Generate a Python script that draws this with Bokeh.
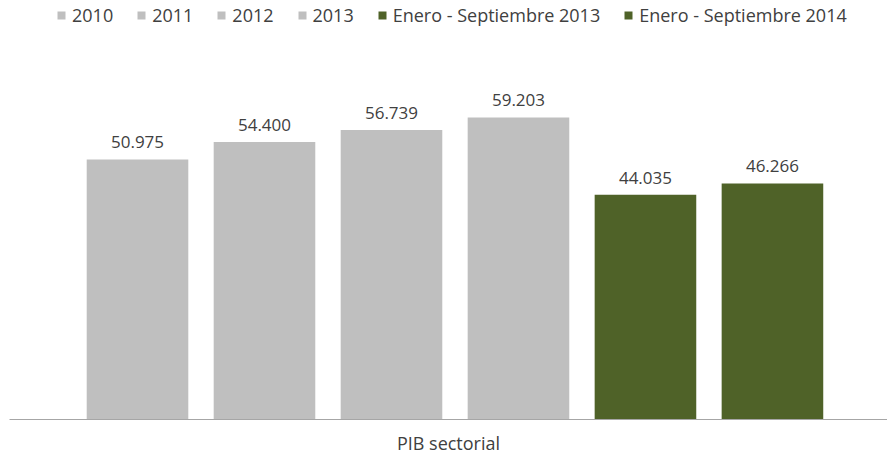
from bokeh.plotting import figure
from bokeh.models import Range1d, FixedTicker, Legend, LegendItem, ColumnDataSource
from bokeh.embed import file_html
from bokeh.resources import INLINE
from bokeh.core.properties import value

# Data
categories = ["2010", "2011", "2012", "2013", "Enero - Septiembre 2013", "Enero - Septiembre 2014"]
values = [50975, 54400, 56739, 59203, 44035, 46266]
colors = ["#bfbfbf", "#bfbfbf", "#bfbfbf", "#bfbfbf", "#4f6228", "#4f6228"]
axis_title = "PIB sectorial"

labels = [f"{v:,}".replace(",", ".") for v in values]
xs = list(range(len(categories)))

FONT = "Open Sans"

p = figure(width=887, height=457, output_backend="svg", toolbar_location=None,
           x_range=Range1d(-1.008, 5.906), y_range=Range1d(0, 82111),
           min_border_left=9, min_border_right=0, min_border_top=0, min_border_bottom=37)

p.outline_line_color = None
p.xgrid.visible = False
p.ygrid.visible = False
p.yaxis.visible = False
p.background_fill_color = "white"
p.border_fill_color = "white"

items = []
for i, (x, v, c, cat) in enumerate(zip(xs, values, colors, categories)):
    src = ColumnDataSource(dict(x=[x], top=[v]))
    r = p.vbar(x="x", top="top", width=0.8, bottom=0, source=src, fill_color=c, line_color=None)
    items.append(LegendItem(label=cat, renderers=[r]))

p.text(x=xs, y=values, text=labels, text_align="center", text_baseline="bottom",
       y_offset=-11, text_font=value(FONT), text_font_size="17px", text_color="#404040")

ax = p.xaxis[0]
ax.ticker = FixedTicker(ticks=[])
ax.axis_label = axis_title
ax.axis_label_text_font = FONT
ax.axis_label_text_font_size = "18px"
ax.axis_label_text_font_style = "normal"
ax.axis_label_text_color = "#404040"
ax.axis_line_color = "#a6a6a6"
ax.axis_line_width = 1
ax.major_tick_line_color = None
ax.minor_tick_line_color = None
ax.major_tick_out = 0
ax.major_label_standoff = 0
ax.axis_label_standoff = 11

legend = Legend(items=items, orientation="horizontal", location=(47, 392),
                glyph_width=10, glyph_height=10, label_standoff=6, spacing=23,
                padding=0, margin=0, border_line_color=None, background_fill_alpha=0,
                label_text_font=FONT, label_text_font_size="18px", label_text_color="#404040",
                label_height=20)
p.add_layout(legend, "center")

open("out.html", "w").write(file_html(p, INLINE))
